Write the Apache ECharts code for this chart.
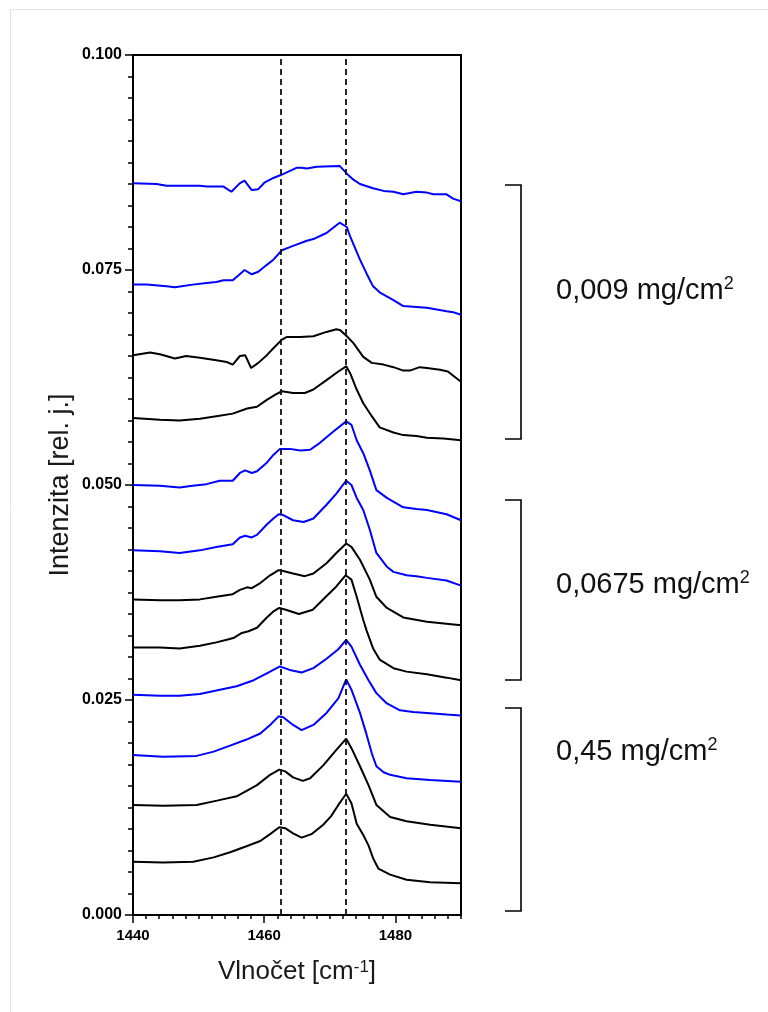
<!DOCTYPE html>
<html>
<head>
<meta charset="utf-8">
<script src="https://cdn.jsdelivr.net/npm/echarts@6/dist/echarts.min.js"></script>
<style>
html,body{margin:0;padding:0;background:#fff;}
#chart{width:768px;height:1012px;}
</style>
</head>
<body>
<div id="chart"></div>
<script>
// ---- data (wavenumber [cm-1], intensity [rel. j.]) ----
const xTickLabels = [1440, 1460, 1480];
const yTickLabels = [0, 0.025, 0.05, 0.075, 0.1];
const peakLines = [1462.5, 1472.5];
const groupLabels = ['0,009', '0,0675', '0,45'];

const c1 = [[1440,0.0851],[1443.6,0.0850],[1445.1,0.0848],[1450.2,0.0848],[1451.2,0.0847],[1453.8,0.0847],[1455,0.0841],[1456.3,0.0851],[1457,0.0854],[1458.1,0.0843],[1459.1,0.0844],[1460.1,0.0852],[1461.4,0.0857],[1462.7,0.0861],[1465,0.0869],[1465.7,0.0869],[1466.5,0.0868],[1468,0.0870],[1471.5,0.0871],[1472.6,0.0862],[1473.6,0.0855],[1474.6,0.0850],[1476.6,0.0845],[1478.2,0.0842],[1479.7,0.0841],[1481.2,0.0838],[1483.2,0.0841],[1484.8,0.0840],[1485.8,0.0838],[1487.8,0.0838],[1488.8,0.0833],[1490,0.0830]];
const c2 = [[1440,0.0733],[1442.1,0.0733],[1445.1,0.0731],[1446.4,0.0730],[1447.4,0.0731],[1449.1,0.0733],[1451.2,0.0735],[1452.7,0.0736],[1453.8,0.0738],[1455.2,0.0738],[1455.8,0.0742],[1457,0.0750],[1458.1,0.0745],[1459.1,0.0748],[1460.4,0.0756],[1461.4,0.0762],[1462.7,0.0773],[1464.4,0.0778],[1466.5,0.0784],[1467.5,0.0786],[1469.5,0.0793],[1471.5,0.0805],[1472.6,0.0800],[1473.1,0.0789],[1474.6,0.0762],[1475.6,0.0746],[1476.6,0.0731],[1477.6,0.0724],[1479.7,0.0715],[1481.2,0.0708],[1483.2,0.0707],[1484.8,0.0706],[1486.3,0.0704],[1487.8,0.0702],[1488.8,0.0701],[1490,0.0698]];
const c3 = [[1440,0.0651],[1442.6,0.0654],[1444.1,0.0652],[1446.4,0.0647],[1448.1,0.0650],[1450.2,0.0648],[1452.7,0.0645],[1454.3,0.0643],[1455.2,0.0640],[1456.3,0.0650],[1457.1,0.0651],[1458,0.0636],[1459.1,0.0642],[1460.4,0.0651],[1461.4,0.0659],[1462.7,0.0669],[1463.4,0.0672],[1465.5,0.0672],[1467.5,0.0673],[1469.5,0.0678],[1471,0.0681],[1471.6,0.0680],[1472.6,0.0673],[1473.6,0.0665],[1475.1,0.0649],[1476.4,0.0642],[1478.2,0.0640],[1479.7,0.0637],[1481.2,0.0633],[1482.2,0.0633],[1483.7,0.0637],[1484.8,0.0636],[1486.8,0.0634],[1488,0.0632],[1490,0.0620]];
const c4 = [[1440,0.0578],[1444.1,0.0576],[1447.1,0.0575],[1450.2,0.0577],[1452.7,0.0580],[1455.2,0.0583],[1457.4,0.0589],[1458.9,0.0591],[1460.4,0.0599],[1461.7,0.0605],[1462.7,0.0609],[1464.4,0.0607],[1466.2,0.0607],[1467.5,0.0611],[1469.5,0.0622],[1471.3,0.0632],[1472.5,0.0638],[1473.1,0.0630],[1474.1,0.0611],[1475.1,0.0595],[1476.4,0.0580],[1477.6,0.0567],[1479.7,0.0561],[1481.2,0.0558],[1483.2,0.0557],[1484.8,0.0555],[1487.3,0.0554],[1490,0.0552]];
const c5 = [[1440,0.0500],[1444.1,0.0499],[1447.1,0.0497],[1449.1,0.0499],[1451.2,0.0501],[1453.2,0.0505],[1455.2,0.0505],[1456.3,0.0514],[1457.1,0.0517],[1458.1,0.0514],[1458.9,0.0516],[1460.4,0.0526],[1461.4,0.0535],[1462.4,0.0542],[1463.9,0.0542],[1465.5,0.0540],[1467,0.0541],[1468.5,0.0549],[1470.5,0.0562],[1472.5,0.0574],[1473.3,0.0570],[1474.1,0.0552],[1475.1,0.0537],[1476.1,0.0517],[1477.1,0.0494],[1478.7,0.0485],[1481.2,0.0474],[1483.2,0.0472],[1484.8,0.0471],[1487.8,0.0466],[1490,0.0459]];
const c6 = [[1440,0.0424],[1444.1,0.0423],[1447.1,0.0421],[1450.2,0.0424],[1452.7,0.0428],[1455.2,0.0431],[1456.3,0.0439],[1457.1,0.0441],[1458.1,0.0439],[1458.9,0.0442],[1460.4,0.0454],[1461.4,0.0461],[1462.2,0.0466],[1462.9,0.0465],[1464.4,0.0459],[1466,0.0457],[1467.5,0.0461],[1469.5,0.0477],[1471,0.0490],[1472.5,0.0505],[1473.3,0.0500],[1474.1,0.0485],[1475.1,0.0471],[1476.1,0.0448],[1477.1,0.0421],[1478.7,0.0405],[1479.7,0.0399],[1481.7,0.0395],[1483.2,0.0394],[1484.8,0.0392],[1487.8,0.0389],[1490,0.0383]];
const c7 = [[1440,0.0367],[1444.1,0.0366],[1447.1,0.0366],[1450.2,0.0367],[1452.7,0.0370],[1455.2,0.0373],[1456.3,0.0378],[1457.4,0.0381],[1458.1,0.0380],[1459.4,0.0386],[1460.9,0.0395],[1462.2,0.0401],[1462.9,0.0400],[1464.4,0.0397],[1466.2,0.0394],[1467.5,0.0397],[1469.5,0.0409],[1471,0.0421],[1472.5,0.0432],[1473.3,0.0428],[1474.6,0.0413],[1476.1,0.0390],[1477.1,0.0370],[1478.7,0.0357],[1481.2,0.0346],[1484.8,0.0341],[1490,0.0337]];
const c8 = [[1440,0.0311],[1444.1,0.0311],[1447.1,0.0310],[1450.2,0.0313],[1452.7,0.0317],[1454.3,0.0320],[1455.3,0.0322],[1456.6,0.0328],[1457.6,0.0330],[1458.9,0.0334],[1460.4,0.0346],[1461.4,0.0353],[1462.3,0.0357],[1463.3,0.0355],[1465.3,0.0350],[1467.4,0.0355],[1469.4,0.0370],[1471,0.0382],[1472.4,0.0395],[1473.3,0.0390],[1474.1,0.0370],[1475.1,0.0343],[1475.6,0.0331],[1476.6,0.0310],[1477.6,0.0297],[1479.7,0.0287],[1481.7,0.0283],[1484.8,0.0280],[1487.8,0.0276],[1490,0.0273]];
const c9 = [[1440,0.0256],[1444.1,0.0255],[1447.1,0.0255],[1450.2,0.0257],[1452.7,0.0261],[1455.8,0.0266],[1458.4,0.0273],[1460.4,0.0281],[1462.4,0.0289],[1463.9,0.0285],[1465.7,0.0282],[1467.5,0.0287],[1469.5,0.0298],[1471.3,0.0309],[1472.5,0.0320],[1473.3,0.0312],[1474.6,0.0291],[1475.9,0.0273],[1477.1,0.0258],[1478.7,0.0246],[1480.7,0.0238],[1482.7,0.0236],[1484.8,0.0235],[1487.8,0.0233],[1490,0.0232]];
const c10 = [[1440,0.0186],[1444.6,0.0184],[1449.7,0.0185],[1452.3,0.0190],[1454.8,0.0197],[1457.3,0.0204],[1459.4,0.0211],[1460.9,0.0221],[1462.2,0.0231],[1462.9,0.0230],[1464.4,0.0221],[1465.7,0.0215],[1467.5,0.0221],[1469.5,0.0235],[1471.3,0.0252],[1472.5,0.0274],[1473.3,0.0262],[1474.6,0.0235],[1475.6,0.0210],[1476.4,0.0188],[1477.1,0.0173],[1478.2,0.0166],[1479.2,0.0163],[1481.7,0.0159],[1485.3,0.0157],[1490,0.0155]];
const c11 = [[1440,0.0128],[1444.6,0.0127],[1449.7,0.0128],[1452.8,0.0133],[1455.8,0.0138],[1458.9,0.0151],[1460.9,0.0163],[1462.3,0.0169],[1463.2,0.0167],[1464.4,0.0160],[1465.9,0.0156],[1467,0.0159],[1469,0.0174],[1471,0.0192],[1472.5,0.0205],[1473.3,0.0194],[1474.6,0.0173],[1475.9,0.0151],[1477.1,0.0128],[1479.2,0.0114],[1481.7,0.0109],[1485.3,0.0105],[1490,0.0101]];
const c12 = [[1440,0.0062],[1444.6,0.0061],[1449.2,0.0062],[1452.3,0.0067],[1454.8,0.0073],[1457.3,0.0080],[1459.4,0.0086],[1460.9,0.0094],[1462.3,0.0102],[1463.2,0.0101],[1464.4,0.0095],[1465.7,0.0090],[1467.2,0.0094],[1469,0.0105],[1470.2,0.0115],[1471.3,0.0128],[1472.5,0.0141],[1473.3,0.0130],[1474.1,0.0106],[1475.1,0.0093],[1475.9,0.0081],[1476.6,0.0066],[1477.4,0.0054],[1479.2,0.0047],[1481.7,0.0041],[1485.3,0.0038],[1490,0.0037]];

const spectra = [c1, c2, c3, c4, c5, c6, c7, c8, c9, c10, c11, c12];
const spectrumKinds = ['b','b','k','k','b','b','k','k','b','b','k','k'];

// ---- styles ----
const FONT = '"Liberation Sans", Arial, Helvetica, sans-serif';
const BLUE = '#0000ff';
const BLACK = '#000000';

const chart = echarts.init(document.getElementById('chart'), null, {renderer: 'canvas'});

const series = spectra.map((d, i) => ({
  type: 'line',
  data: d,
  xAxisIndex: 0,
  yAxisIndex: 0,
  showSymbol: false,
  symbol: 'none',
  smooth: false,
  silent: true,
  lineStyle: {color: spectrumKinds[i] === 'b' ? BLUE : BLACK, width: 2},
  z: 3
}));

series.push({
  type: 'line',
  data: [],
  xAxisIndex: 0,
  yAxisIndex: 0,
  silent: true,
  markLine: {
    silent: true,
    symbol: ['none', 'none'],
    label: {show: false},
    lineStyle: {color: '#111', width: 1.8, type: [6, 4]},
    data: peakLines.map(v => ({xAxis: v}))
  },
  z: 2
});

const bracketPts = [
  [[505, 185], [521, 185], [521, 439], [505, 439]],
  [[505, 500], [521, 500], [521, 680], [505, 680]],
  [[505, 708], [521, 708], [521, 911], [505, 911]]
];
const labelY = [291, 585, 752];

const richLabel = {
  n: {fontSize: 29, lineHeight: 32, fontFamily: FONT, fill: '#111', color: '#111'},
  s: {fontSize: 18, lineHeight: 14, fontFamily: FONT, fill: '#111', color: '#111', verticalAlign: 'top'}
};

const graphics = [
  {type: 'rect', silent: true, z: 0,
   shape: {x: 10.5, y: 9.5, width: 900, height: 1100},
   style: {fill: 'none', stroke: '#e4e4e4', lineWidth: 1}}
];
bracketPts.forEach(p => graphics.push({
  type: 'polyline', silent: true,
  shape: {points: p},
  style: {fill: 'none', stroke: '#000', lineWidth: 1.6}
}));
groupLabels.forEach((t, i) => graphics.push({
  type: 'text', silent: true,
  style: {
    x: 556, y: labelY[i],
    text: '{n|' + t + ' mg/cm}{s|2}',
    rich: richLabel,
    verticalAlign: 'middle',
    align: 'left'
  }
}));

const option = {
  animation: false,
  backgroundColor: '#ffffff',
  grid: {
    left: 133, top: 55, width: 328, height: 860,
    show: true, borderColor: '#000', borderWidth: 2, backgroundColor: 'transparent'
  },
  xAxis: [
    {
      type: 'value', min: 1440, max: 1490, interval: 2, position: 'bottom',
      axisLine: {show: true, lineStyle: {color: '#000', width: 2}},
      axisTick: {show: true, length: 4, lineStyle: {color: '#000', width: 1.5}},
      splitLine: {show: false},
      axisLabel: {
        customValues: xTickLabels,
        formatter: v => String(v),
        color: '#000', fontWeight: 'bold', fontSize: 15, fontFamily: FONT, margin: 13
      },
      name: '{a|Vlnočet [cm}{b|-1}{a|]}',
      nameLocation: 'middle',
      nameGap: 44,
      nameTextStyle: {
        rich: {
          a: {fontSize: 26, lineHeight: 26, fontFamily: FONT, color: '#1a1a1a'},
          b: {fontSize: 17, lineHeight: 11, fontFamily: FONT, color: '#1a1a1a', verticalAlign: 'top'}
        }
      }
    },
    {
      type: 'value', min: 1440, max: 1490, interval: 20, position: 'bottom',
      axisLine: {show: false},
      axisTick: {show: true, length: 8, customValues: xTickLabels, lineStyle: {color: '#000', width: 1.5}},
      axisLabel: {show: false},
      splitLine: {show: false}
    }
  ],
  yAxis: [
    {
      type: 'value', min: 0, max: 0.1, interval: 0.025, position: 'left',
      axisLine: {show: true, lineStyle: {color: '#000', width: 2}},
      axisTick: {show: true, length: 8, lineStyle: {color: '#000', width: 1.5}},
      minorTick: {show: true, splitNumber: 10, length: 5, lineStyle: {color: '#000', width: 1.5}},
      splitLine: {show: false},
      minorSplitLine: {show: false},
      axisLabel: {
        formatter: v => v.toFixed(3),
        color: '#000', fontWeight: 'bold', fontSize: 16, fontFamily: FONT, margin: 11
      },
      name: 'Intenzita [rel. j.]',
      nameLocation: 'middle',
      nameGap: 59,
      nameTextStyle: {fontSize: 27, lineHeight: 27, fontFamily: FONT, color: '#1a1a1a'}
    }
  ],
  series: series,
  graphic: graphics
};

chart.setOption(option);
</script>
</body>
</html>
